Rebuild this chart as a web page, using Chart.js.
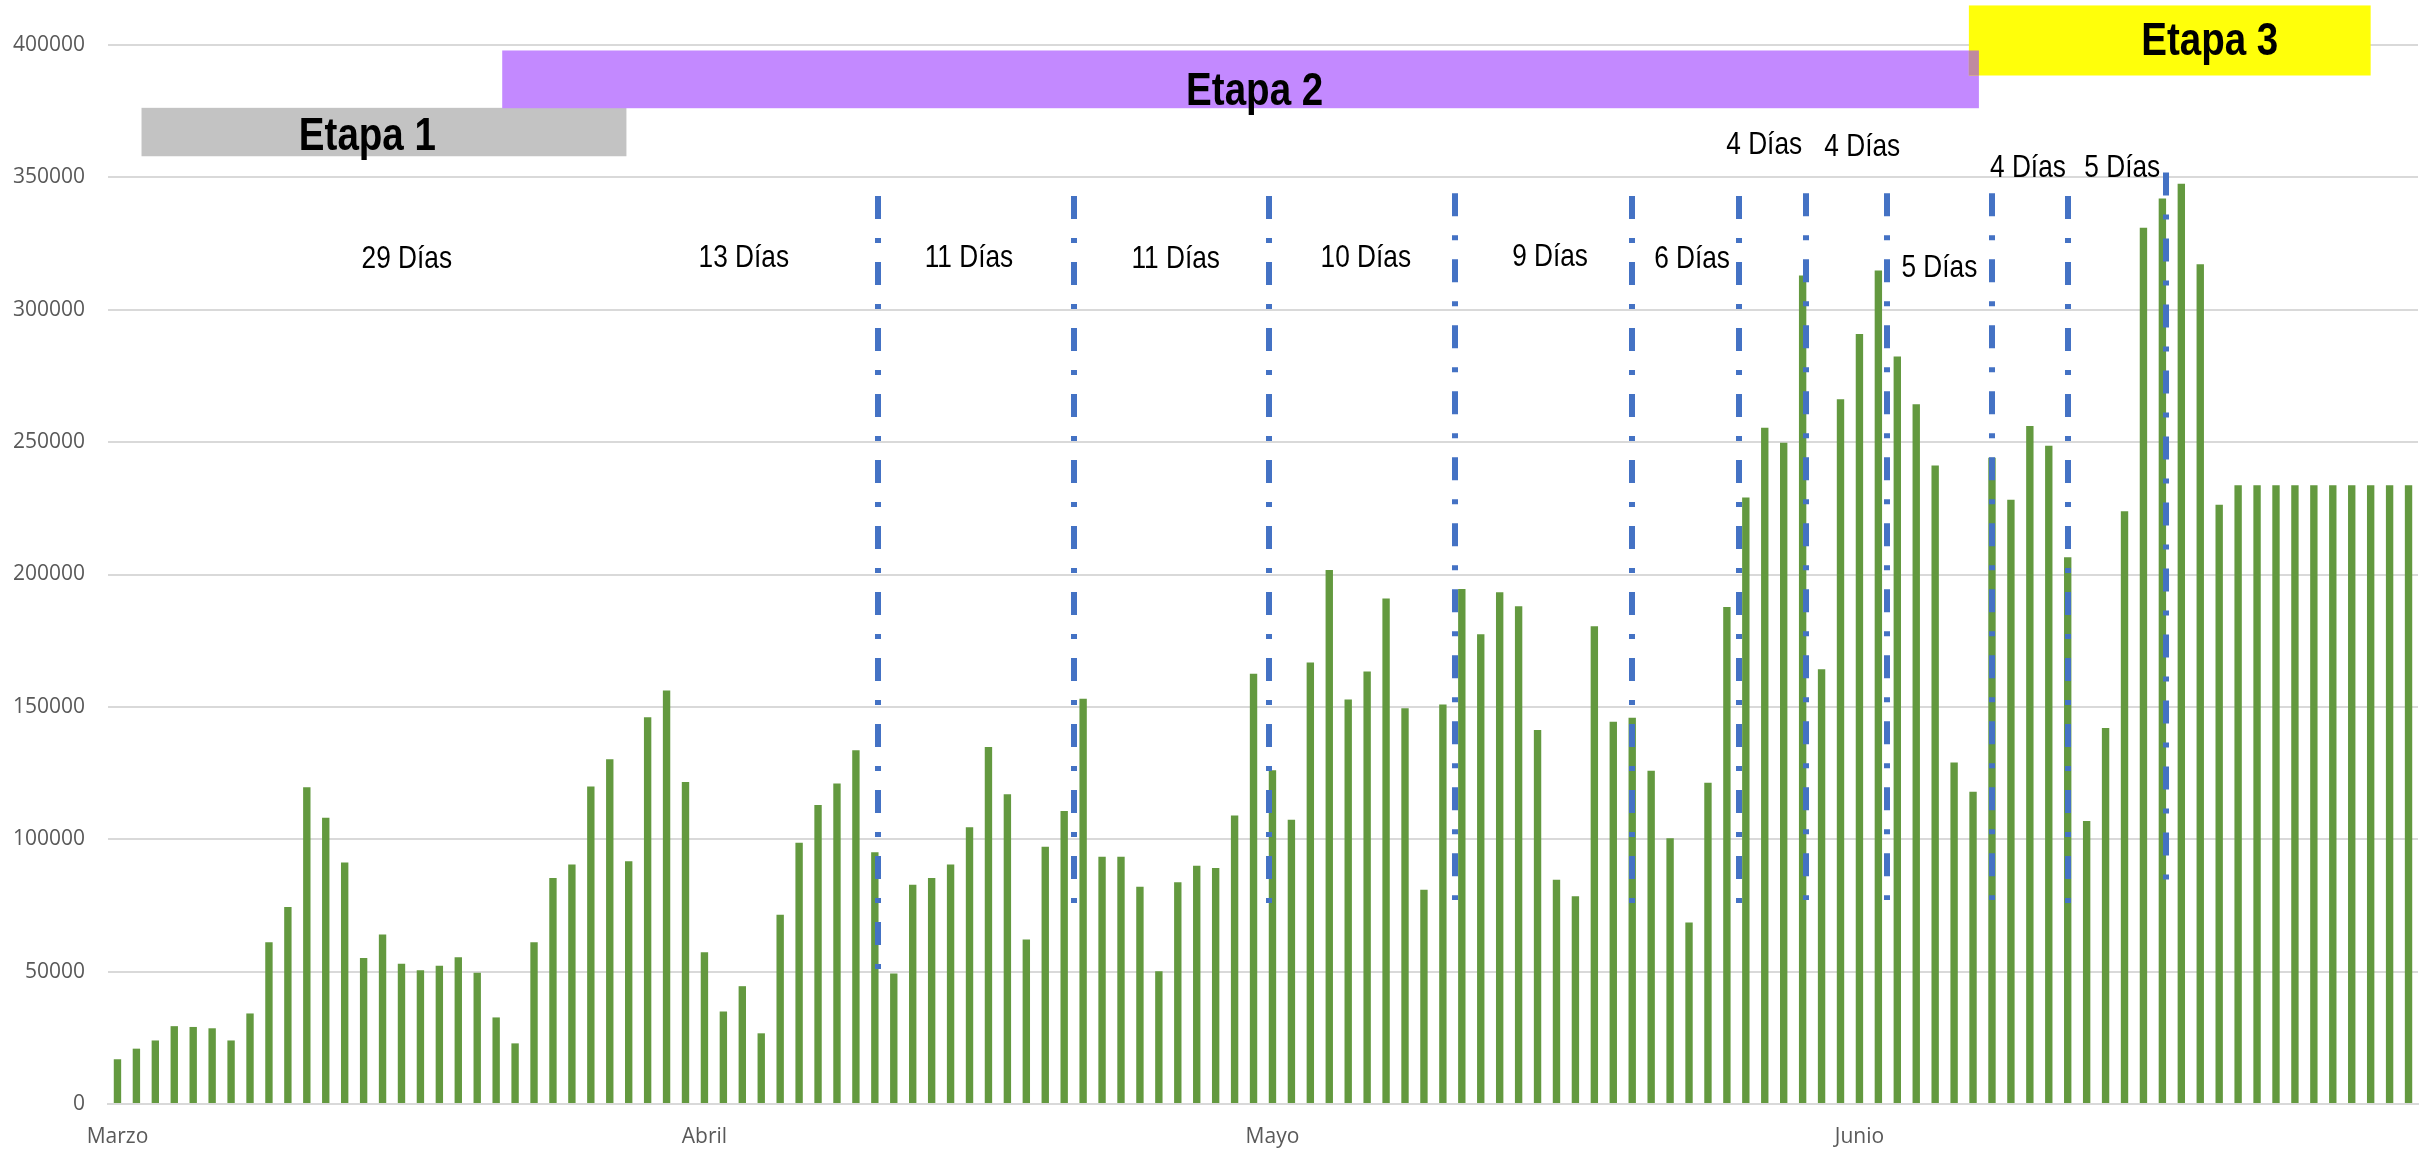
<!DOCTYPE html>
<html>
<head>
<meta charset="utf-8">
<script src="https://cdn.jsdelivr.net/npm/chart.js@4.4.1/dist/chart.umd.min.js"></script>
<style>
  html, body { margin: 0; padding: 0; background: #ffffff; }
  #wrap { width: 2432px; height: 1149px; }
</style>
</head>
<body>
<div id="wrap"><canvas id="c" width="2432" height="1149"></canvas></div>
<script>
// ---------------- DATA ----------------
const months = ["Marzo", "Abril", "Mayo", "Junio"];
const monthLengths = [31, 30, 31, 30];

// daily values, 1 March .. 30 June
const dailyValues = [
  // Marzo
  16900, 20900, 24000, 29400, 29100, 28600, 24000, 34200, 61100, 74400,
  119600, 108100, 91200, 55100, 64000, 53000, 50500, 52200, 55400, 49600,
  32700, 22900, 61100, 85400, 90500, 119900, 130200, 91700, 146100, 156200,
  121600,
  // Abril
  57300, 34900, 44500, 26700, 71500, 98700, 112900, 121100, 133600, 95100,
  49300, 82800, 85400, 90500, 104500, 134800, 117000, 62100, 97200, 110700,
  153100, 93400, 93400, 82100, 50100, 83800, 90000, 89100, 109000, 162500,
  // Mayo
  126100, 107400, 166800, 201700, 152800, 163400, 190900, 149500, 80900, 150900,
  194500, 177400, 193300, 188000, 141300, 84700, 78500, 180500, 144400, 145900,
  125900, 100400, 68600, 121300, 187700, 229100, 255400, 249800, 312900, 164200,
  266200,
  // Junio
  290800, 314800, 282300, 264300, 241200, 129000, 117900, 244100, 228200, 256100,
  248600, 206500, 106900, 142000, 223900, 331000, 342000, 347600, 317200, 226300,
  233700, 233700, 233700, 233700, 233700, 233700, 233700, 233700, 233700, 233700
];

const yTicks = [0, 50000, 100000, 150000, 200000, 250000, 300000, 350000, 400000];

// interval labels
const intervalLabels = ["29 Días", "13 Días", "11 Días", "11 Días", "10 Días", "9 Días",
  "6 Días", "4 Días", "4 Días", "5 Días", "4 Días", "5 Días"];
const stageLabels = ["Etapa 1", "Etapa 2", "Etapa 3"];

// divider positions, in day-index units (0 = 1 Marzo)
const dividerDays = [40.16, 50.53, 60.84, 70.64, 79.99, 85.66, 89.19, 93.44, 98.98, 103.0, 108.2];
const dividerTop = [343000, 343000, 343000, 344000, 343000, 343000, 344000, 344000, 344000, 343000, 351800];
const dividerBottom = [50600, 75600, 75600, 77100, 75600, 75600, 77100, 77100, 77100, 75600, 84700];

// ---------------- LAYOUT (not data) ----------------
const intervalPos = [ // [day index of center, baseline value]
  [15.28, 315600], [33.08, 316300], [44.97, 316300], [55.89, 315600], [65.93, 316300],
  [75.66, 316600], [83.16, 315600], [86.97, 359000], [92.15, 358200], [96.22, 312500],
  [100.9, 350300], [105.88, 350300]
];
const stageBoxes = [ // [x1, x2 (day idx), yTop, yBottom (value)], fill
  { x1: 1.27, x2: 26.88, yt: 376270, yb: 357980, fill: "#C3C3C3", tx: 13.2, ty: 360250 },
  { x1: 20.32, x2: 98.31, yt: 397930, yb: 376120, fill: "#C389FF", tx: 60.06, ty: 377150 },
  { x1: 97.78, x2: 119.0, yt: 414940, yb: 388480, fill: "#FFFF0A", tx: 110.5, ty: 396040 }
];

// build categories
const categories = [];
months.forEach((m, i) => {
  for (let d = 1; d <= monthLengths[i]; d++) categories.push(d === 1 ? m : "");
});

function narrowText(ctx, text, cx, by, font, sx) {
  ctx.save();
  ctx.font = font;
  ctx.translate(cx, by);
  ctx.scale(sx, 1);
  ctx.textAlign = "center";
  ctx.textBaseline = "alphabetic";
  ctx.fillStyle = "#000000";
  ctx.fillText(text, 0, 0);
  ctx.restore();
}

const overlayPlugin = {
  id: "overlay",
  afterDatasetsDraw(chart) {
    const ctx = chart.ctx;
    const xs = chart.scales.x, ys = chart.scales.y;
    const px = v => xs.getPixelForValue(0) + v * (xs.getPixelForValue(1) - xs.getPixelForValue(0));
    const py = v => ys.getPixelForValue(v);

    // dividers
    ctx.save();
    ctx.strokeStyle = "#4472C4";
    ctx.lineWidth = 6;
    ctx.lineCap = "butt";
    ctx.setLineDash([23, 19, 5, 19]);
    dividerDays.forEach((d, i) => {
      const x = Math.round(px(d));
      ctx.beginPath();
      ctx.moveTo(x, py(dividerTop[i]));
      ctx.lineTo(x, py(dividerBottom[i]));
      ctx.stroke();
    });
    ctx.restore();

    // interval labels
    intervalLabels.forEach((t, i) => {
      narrowText(ctx, t, px(intervalPos[i][0]), py(intervalPos[i][1]),
        "32px 'Liberation Sans', Arial, sans-serif", 0.82);
    });

    // stage boxes
    const rects = stageBoxes.map(b => ({
      x: px(b.x1), y: py(b.yt), w: px(b.x2) - px(b.x1), h: py(b.yb) - py(b.yt)
    }));
    ctx.save();
    stageBoxes.forEach((b, i) => {
      ctx.fillStyle = b.fill;
      ctx.fillRect(rects[i].x, rects[i].y, rects[i].w, rects[i].h);
    });
    // overlap of box 2 and box 3
    const a = rects[1], c = rects[2];
    const ox1 = Math.max(a.x, c.x), ox2 = Math.min(a.x + a.w, c.x + c.w);
    const oy1 = Math.max(a.y, c.y), oy2 = Math.min(a.y + a.h, c.y + c.h);
    if (ox2 > ox1 && oy2 > oy1) {
      ctx.fillStyle = "#C08AA0";
      ctx.fillRect(ox1, oy1, ox2 - ox1, oy2 - oy1);
    }
    ctx.restore();
    stageBoxes.forEach((b, i) => {
      narrowText(ctx, stageLabels[i], px(b.tx), py(b.ty),
        "bold 47px 'Liberation Sans', Arial, sans-serif", 0.82);
    });
  }
};

new Chart(document.getElementById("c"), {
  type: "bar",
  data: {
    labels: categories,
    datasets: [{
      data: dailyValues,
      backgroundColor: "#63993F",
      borderWidth: 0,
      barPercentage: 0.39,
      categoryPercentage: 1.0
    }]
  },
  options: {
    responsive: false,
    animation: false,
    devicePixelRatio: 1,
    layout: { padding: { top: 45, right: 14, left: 0, bottom: 0 } },
    plugins: { legend: { display: false }, tooltip: { enabled: false } },
    scales: {
      x: {
        offset: true,
        grid: { display: false, drawTicks: false },
        border: { display: true, color: "#D9D9D9", width: 2 },
        ticks: {
          autoSkip: false, maxRotation: 0, minRotation: 0,
          padding: 20,
          color: "#595959",
          font: { family: "'Open Sans', sans-serif", size: 21 },
          callback: function (v, i) { return categories[i]; }
        },
        afterFit: s => { s.height = 45; }
      },
      y: {
        min: 0, max: 400000,
        afterBuildTicks: s => { s.ticks = yTicks.map(v => ({ value: v })); },
        grid: { color: "#D9D9D9", lineWidth: 2, drawTicks: false },
        border: { display: false },
        ticks: {
          padding: 23,
          color: "#595959",
          font: { family: "'Open Sans', sans-serif", size: 21 },
          callback: v => String(v)
        },
        afterFit: s => { s.width = 108; }
      }
    }
  },
  plugins: [overlayPlugin]
});
</script>
</body>
</html>
